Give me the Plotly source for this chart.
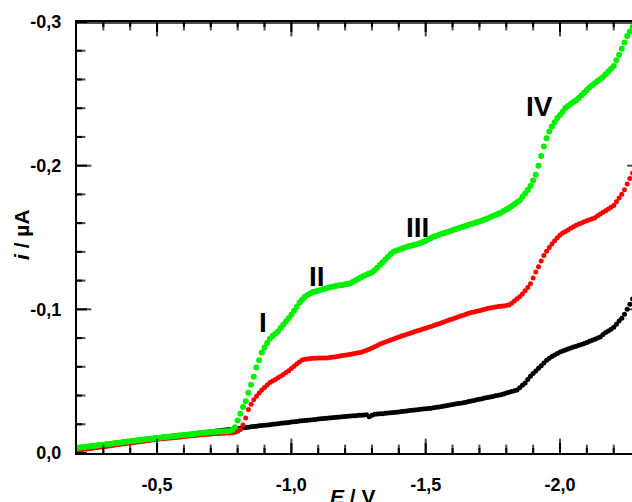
import numpy as np
import plotly.graph_objects as go

# Potential grid (V), 0.01 V step, from -0.20 to -2.27
E = [-round(0.20 + 0.01 * k, 2) for k in range(208)]

# Currents (µA)
i_black = [
 -0.0035,-0.0037,-0.0040,-0.0042,-0.0044,-0.0047,-0.0049,-0.0051,-0.0054,-0.0056,
 -0.0058,-0.0061,-0.0063,-0.0065,-0.0068,-0.0070,-0.0072,-0.0075,-0.0077,-0.0079,
 -0.0082,-0.0084,-0.0086,-0.0089,-0.0091,-0.0093,-0.0096,-0.0098,-0.0100,-0.0103,
 -0.0105,-0.0107,-0.0109,-0.0111,-0.0113,-0.0116,-0.0118,-0.0120,-0.0122,-0.0124,
 -0.0126,-0.0128,-0.0130,-0.0133,-0.0135,-0.0137,-0.0139,-0.0141,-0.0144,-0.0146,
 -0.0148,-0.0150,-0.0153,-0.0155,-0.0157,-0.0160,-0.0162,-0.0164,-0.0166,-0.0168,
 -0.0171,-0.0173,-0.0175,-0.0177,-0.0180,-0.0182,-0.0184,-0.0186,-0.0189,-0.0191,
 -0.0193,-0.0195,-0.0197,-0.0200,-0.0202,-0.0204,-0.0207,-0.0209,-0.0211,-0.0213,
 -0.0216,-0.0218,-0.0220,-0.0223,-0.0225,-0.0227,-0.0228,-0.0230,-0.0232,-0.0234,
 -0.0236,-0.0238,-0.0240,-0.0242,-0.0244,-0.0246,-0.0247,-0.0249,-0.0251,-0.0252,
 -0.0254,-0.0256,-0.0257,-0.0259,-0.0260,-0.0262,-0.0263,-0.0265,-0.0266,-0.0252,
 -0.0262,-0.0269,-0.0271,-0.0273,-0.0274,-0.0276,-0.0278,-0.0280,-0.0282,-0.0284,
 -0.0286,-0.0288,-0.0290,-0.0293,-0.0295,-0.0297,-0.0299,-0.0301,-0.0304,-0.0306,
 -0.0308,-0.0310,-0.0312,-0.0315,-0.0318,-0.0321,-0.0324,-0.0328,-0.0331,-0.0334,
 -0.0337,-0.0341,-0.0344,-0.0347,-0.0350,-0.0354,-0.0358,-0.0362,-0.0366,-0.0370,
 -0.0374,-0.0378,-0.0382,-0.0386,-0.0390,-0.0394,-0.0398,-0.0402,-0.0406,-0.0411,
 -0.0417,-0.0422,-0.0428,-0.0433,-0.0439,-0.0455,-0.0471,-0.0488,-0.0512,-0.0534,
 -0.0553,-0.0571,-0.0590,-0.0608,-0.0627,-0.0646,-0.0660,-0.0672,-0.0683,-0.0693,
 -0.0703,-0.0710,-0.0717,-0.0724,-0.0730,-0.0737,-0.0743,-0.0750,-0.0755,-0.0763,
 -0.0770,-0.0777,-0.0785,-0.0792,-0.0800,-0.0808,-0.0824,-0.0839,-0.0850,-0.0861,
 -0.0876,-0.0897,-0.0918,-0.0938,-0.0966,-0.1000,-0.1036,-0.1072]

i_red = [
 -0.0018,-0.0021,-0.0023,-0.0026,-0.0028,-0.0031,-0.0033,-0.0036,-0.0039,-0.0041,
 -0.0044,-0.0046,-0.0049,-0.0051,-0.0054,-0.0057,-0.0059,-0.0062,-0.0064,-0.0067,
 -0.0069,-0.0072,-0.0074,-0.0077,-0.0080,-0.0082,-0.0085,-0.0087,-0.0090,-0.0092,
 -0.0095,-0.0097,-0.0099,-0.0101,-0.0103,-0.0105,-0.0106,-0.0108,-0.0110,-0.0112,
 -0.0114,-0.0116,-0.0118,-0.0120,-0.0122,-0.0124,-0.0125,-0.0127,-0.0129,-0.0131,
 -0.0133,-0.0134,-0.0135,-0.0136,-0.0137,-0.0138,-0.0139,-0.0140,-0.0141,-0.0145,
 -0.0152,-0.0164,-0.0195,-0.0243,-0.0303,-0.0340,-0.0370,-0.0395,-0.0417,-0.0438,
 -0.0456,-0.0473,-0.0490,-0.0501,-0.0512,-0.0523,-0.0534,-0.0547,-0.0560,-0.0573,
 -0.0588,-0.0604,-0.0619,-0.0634,-0.0647,-0.0652,-0.0655,-0.0657,-0.0660,-0.0660,
 -0.0661,-0.0661,-0.0661,-0.0662,-0.0663,-0.0666,-0.0669,-0.0672,-0.0675,-0.0678,
 -0.0681,-0.0684,-0.0688,-0.0691,-0.0694,-0.0697,-0.0702,-0.0709,-0.0716,-0.0723,
 -0.0731,-0.0740,-0.0749,-0.0758,-0.0766,-0.0773,-0.0780,-0.0787,-0.0794,-0.0801,
 -0.0808,-0.0814,-0.0820,-0.0826,-0.0832,-0.0838,-0.0845,-0.0851,-0.0857,-0.0863,
 -0.0869,-0.0875,-0.0881,-0.0887,-0.0894,-0.0900,-0.0907,-0.0914,-0.0920,-0.0927,
 -0.0933,-0.0940,-0.0946,-0.0953,-0.0959,-0.0966,-0.0972,-0.0978,-0.0982,-0.0987,
 -0.0991,-0.0996,-0.1000,-0.1005,-0.1010,-0.1013,-0.1016,-0.1019,-0.1021,-0.1024,
 -0.1027,-0.1030,-0.1043,-0.1058,-0.1073,-0.1087,-0.1107,-0.1130,-0.1152,-0.1178,
 -0.1218,-0.1259,-0.1297,-0.1336,-0.1375,-0.1405,-0.1431,-0.1455,-0.1477,-0.1499,
 -0.1518,-0.1531,-0.1542,-0.1553,-0.1564,-0.1575,-0.1586,-0.1594,-0.1601,-0.1609,
 -0.1616,-0.1624,-0.1631,-0.1638,-0.1651,-0.1663,-0.1675,-0.1686,-0.1698,-0.1710,
 -0.1723,-0.1749,-0.1775,-0.1801,-0.1833,-0.1872,-0.1910,-0.1948]

i_green = [
 -0.0035,-0.0037,-0.0040,-0.0042,-0.0044,-0.0047,-0.0049,-0.0051,-0.0054,-0.0056,
 -0.0058,-0.0061,-0.0063,-0.0065,-0.0068,-0.0070,-0.0072,-0.0075,-0.0077,-0.0080,
 -0.0082,-0.0084,-0.0087,-0.0089,-0.0091,-0.0094,-0.0096,-0.0098,-0.0101,-0.0103,
 -0.0105,-0.0107,-0.0109,-0.0111,-0.0113,-0.0115,-0.0117,-0.0119,-0.0121,-0.0123,
 -0.0125,-0.0127,-0.0129,-0.0131,-0.0133,-0.0135,-0.0137,-0.0139,-0.0141,-0.0143,
 -0.0146,-0.0147,-0.0148,-0.0149,-0.0150,-0.0151,-0.0152,-0.0154,-0.0162,-0.0180,
 -0.0227,-0.0273,-0.0320,-0.0360,-0.0420,-0.0475,-0.0530,-0.0595,-0.0645,-0.0700,
 -0.0735,-0.0765,-0.0795,-0.0815,-0.0830,-0.0846,-0.0870,-0.0892,-0.0915,-0.0938,
 -0.0963,-0.0990,-0.1017,-0.1045,-0.1067,-0.1088,-0.1100,-0.1110,-0.1120,-0.1125,
 -0.1130,-0.1136,-0.1141,-0.1147,-0.1152,-0.1157,-0.1160,-0.1164,-0.1167,-0.1170,
 -0.1174,-0.1177,-0.1182,-0.1192,-0.1202,-0.1213,-0.1223,-0.1233,-0.1241,-0.1249,
 -0.1257,-0.1272,-0.1290,-0.1310,-0.1328,-0.1347,-0.1366,-0.1385,-0.1401,-0.1408,
 -0.1415,-0.1421,-0.1428,-0.1435,-0.1440,-0.1445,-0.1450,-0.1455,-0.1461,-0.1469,
 -0.1478,-0.1487,-0.1496,-0.1507,-0.1513,-0.1520,-0.1526,-0.1532,-0.1538,-0.1544,
 -0.1551,-0.1557,-0.1563,-0.1569,-0.1575,-0.1582,-0.1588,-0.1594,-0.1600,-0.1606,
 -0.1612,-0.1618,-0.1625,-0.1633,-0.1641,-0.1649,-0.1657,-0.1665,-0.1673,-0.1684,
 -0.1695,-0.1706,-0.1718,-0.1732,-0.1745,-0.1758,-0.1783,-0.1807,-0.1831,-0.1858,
 -0.1897,-0.1936,-0.2000,-0.2067,-0.2133,-0.2190,-0.2238,-0.2272,-0.2302,-0.2331,
 -0.2353,-0.2376,-0.2401,-0.2415,-0.2429,-0.2443,-0.2456,-0.2471,-0.2490,-0.2508,
 -0.2527,-0.2545,-0.2560,-0.2574,-0.2589,-0.2603,-0.2618,-0.2637,-0.2656,-0.2675,
 -0.2694,-0.2733,-0.2772,-0.2814,-0.2858,-0.2902,-0.2934,-0.2966]

x_tickvals = [-0.5, -1.0, -1.5, -2.0]
x_ticktext = ["-0,5", "-1,0", "-1,5", "-2,0"]
x_minorvals = [-0.3, -0.4, -0.6, -0.7, -0.8, -0.9, -1.1, -1.2, -1.3, -1.4,
               -1.6, -1.7, -1.8, -1.9, -2.1, -2.2]
y_tickvals = [0.0, -0.1, -0.2, -0.3]
y_ticktext = ["0,0", "-0,1", "-0,2", "-0,3"]
y_minorvals = [-0.02, -0.04, -0.06, -0.08, -0.12, -0.14, -0.16, -0.18,
               -0.22, -0.24, -0.26, -0.28]

wave_labels = ["I", "II", "III", "IV"]
wave_E = [-0.895, -1.096, -1.468, -1.922]
wave_i = [-0.0906, -0.1226, -0.1568, -0.2411]

FONT = "Liberation Sans, Arial, sans-serif"

# layout geometry
W, H = 632, 502
ML, MR, MT, MB = 77, 0, 22, 49
X_RANGE = [-0.202, -2.268]
Y_RANGE = [0.0, -0.3]
MAJ, MIN = 10, 5   # tick lengths in px
PW, PH = W - ML - MR, H - MT - MB

# px -> data-unit conversion from the axis scales (tick placement only)
ppx = PW / abs(X_RANGE[1] - X_RANGE[0])
ppy = PH / abs(Y_RANGE[1] - Y_RANGE[0])
dx = lambda px: px / ppx
dy = lambda px: px / ppy
# data -> paper fraction
fx = lambda v: (v - X_RANGE[0]) / (X_RANGE[1] - X_RANGE[0])
fy = lambda v: (v - Y_RANGE[0]) / (Y_RANGE[1] - Y_RANGE[0])

fig = go.Figure()
fig.add_trace(go.Scatter(x=E, y=i_black, mode="markers", hoverinfo="skip",
                         marker=dict(color="#000000", size=5, line=dict(width=0))))
fig.add_trace(go.Scatter(x=E, y=i_red, mode="markers", hoverinfo="skip",
                         marker=dict(color="#FF0000", size=5, line=dict(width=0))))
fig.add_trace(go.Scatter(x=E, y=i_green, mode="markers", hoverinfo="skip",
                         marker=dict(color="#00F000", size=6, line=dict(width=0))))

# Inward frame ticks as line-shaped markers (sized in px)
vx, vy, vs = [], [], []
for vals, L in ((x_tickvals, MAJ), (x_minorvals, MIN)):
    for v in vals:
        vx += [v, v]
        vy += [Y_RANGE[0] - dy(L / 2 + 1), Y_RANGE[1] + dy(L / 2 + 1)]
        vs += [L + 2, L + 2]
hx, hy, hs = [], [], []
for vals, L in ((y_tickvals[1:3], MAJ), (y_minorvals, MIN)):
    for v in vals:
        hx.append(X_RANGE[0] - dx(L / 2 + 1))
        hy.append(v)
        hs.append(L + 2)
for v in y_tickvals[1:3]:
    hx.append(X_RANGE[1] + dx(2))
    hy.append(v)
    hs.append(4)
hx.append((X_RANGE[0] + X_RANGE[1]) / 2)
hy.append(Y_RANGE[1] + dy(1))
hs.append(PW)

fig.add_trace(go.Scatter(x=vx, y=vy, mode="markers", hoverinfo="skip",
                         marker=dict(symbol="line-ns", size=vs, color="black",
                                     line=dict(width=2, color="black"))))
fig.add_trace(go.Scatter(x=hx, y=hy, mode="markers", hoverinfo="skip",
                         marker=dict(symbol="line-ew", size=hs, color="black",
                                     line=dict(width=2, color="black"))))

# Same ticks again as paper-referenced shapes (redundant, same positions)
tl = dict(color="black", width=2)
for vals, L in ((x_tickvals, MAJ), (x_minorvals, MIN)):
    for v in vals:
        fig.add_shape(type="line", xref="paper", yref="paper", x0=fx(v), x1=fx(v),
                      y0=0, y1=L / PH, line=tl, layer="above")
        fig.add_shape(type="line", xref="paper", yref="paper", x0=fx(v), x1=fx(v),
                      y0=1, y1=1 - L / PH, line=tl, layer="above")
for vals, L in ((y_tickvals, MAJ), (y_minorvals, MIN)):
    for v in vals:
        fig.add_shape(type="line", xref="paper", yref="paper", x0=0, x1=L / PW,
                      y0=fy(v), y1=fy(v), line=tl, layer="above")

for t, xv, yv in zip(wave_labels, wave_E, wave_i):
    fig.add_annotation(x=xv, y=yv, text="<b>%s</b>" % t, showarrow=False,
                       xanchor="center", yanchor="middle",
                       font=dict(family=FONT, size=28, color="black"))

fig.add_annotation(xref="paper", yref="paper", x=-0.101, y=0.508,
                   text="<b><i>i</i> / µA</b>", textangle=-90, showarrow=False,
                   xanchor="center", yanchor="middle",
                   font=dict(family=FONT, size=21, color="black"))
fig.add_annotation(xref="paper", yref="paper", x=0.497, y=-0.07,
                   text="<b><i>E</i> / V</b>", showarrow=False,
                   xanchor="center", yanchor="top",
                   font=dict(family=FONT, size=21, color="black"))

fig.update_layout(
    width=W, height=H, margin=dict(l=ML, r=MR, t=MT, b=MB),
    paper_bgcolor="white", plot_bgcolor="white", showlegend=False,
    font=dict(family=FONT, color="black"),
    xaxis=dict(
        range=X_RANGE, tickmode="array", tickvals=x_tickvals,
        ticktext=["<b>%s</b>" % s for s in x_ticktext],
        showgrid=False, zeroline=False, showline=True, linecolor="black",
        linewidth=2, mirror=True, ticks="", ticklabelstandoff=14,
        tickfont=dict(family=FONT, size=18, color="black"),
    ),
    yaxis=dict(
        range=Y_RANGE, tickmode="array", tickvals=y_tickvals,
        ticktext=["<b>%s</b>" % s for s in y_ticktext],
        showgrid=False, zeroline=False, showline=True, linecolor="black",
        linewidth=2, mirror=False, ticks="", ticklabelstandoff=10,
        tickfont=dict(family=FONT, size=18, color="black"),
    ),
)

fig.write_html("out.html")
